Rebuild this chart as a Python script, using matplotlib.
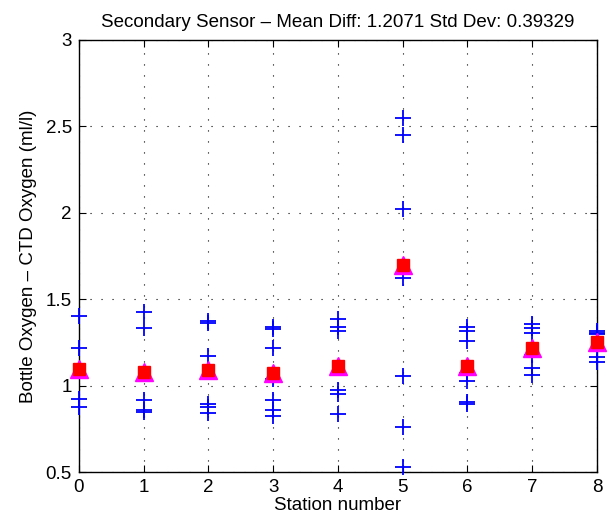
import matplotlib
matplotlib.use("Agg")
import matplotlib.pyplot as plt

# Bottle - CTD oxygen differences per station
stations = [0, 1, 2, 3, 4, 5, 6, 7, 8]
diffs = [
    [1.40, 1.215, 0.924, 0.876],
    [1.428, 1.331, 0.915, 0.861, 0.85],
    [1.375, 1.365, 1.17, 0.895, 0.876, 0.841],
    [1.34, 1.33, 1.215, 1.04, 0.918, 0.861, 0.822],
    [1.384, 1.341, 1.318, 0.973, 0.953, 0.837],
    [2.548, 2.451, 2.023, 1.622, 1.053, 0.763, 0.527],
    [1.337, 1.318, 1.258, 1.073, 1.027, 0.905, 0.895],
    [1.355, 1.331, 1.306, 1.176, 1.099, 1.06],
    [1.318, 1.306, 1.30, 1.167, 1.138],
]
station_means = [1.095, 1.078, 1.088, 1.075, 1.112, 1.695, 1.115, 1.215, 1.254]

plt.rcParams['font.family'] = ['Liberation Sans', 'DejaVu Sans']

fig = plt.figure(figsize=(6.16, 5.31), dpi=100)
ax = fig.add_axes([0.128, 0.111, 0.841, 0.814])

for st, vals in zip(stations, diffs):
    ax.plot([st] * len(vals), vals, '+', color='#0000ff', markersize=11,
            markeredgewidth=1.3, linestyle='none', clip_on=False, zorder=3)

# mean per station: magenta triangle under a red square
ax.plot(stations, station_means, '^', color='#ff00ff', markersize=12.5,
        linestyle='none', clip_on=False, zorder=4)
ax.plot(stations, station_means, 's', color='#ff0000', markersize=9,
        linestyle='none', clip_on=False, zorder=5)

ax.set_xlim(0, 8)
ax.set_ylim(0.5, 3)
ax.set_xticks(range(0, 9))
ax.set_yticks([0.5, 1, 1.5, 2, 2.5, 3])
ax.set_yticklabels(['0.5', '1', '1.5', '2', '2.5', '3'])
ax.grid(True, color='black', linestyle=(0, (1, 8.9)), linewidth=0.8)
ax.tick_params(direction='in', top=True, right=True, labelsize=13.5,
               length=5, width=0.8, pad=5)
for sp in ax.spines.values():
    sp.set_linewidth(1.0)

ax.set_xlabel('Station number', fontsize=13.5, labelpad=1)
ax.set_ylabel('Bottle Oxygen \u2013 CTD Oxygen (ml/l)', fontsize=13.5, labelpad=6)
ax.set_title('Secondary Sensor \u2013 Mean Diff: 1.2071 Std Dev: 0.39329',
             fontsize=13.5, pad=9)

fig.savefig('out.png', dpi=100, facecolor='white')
